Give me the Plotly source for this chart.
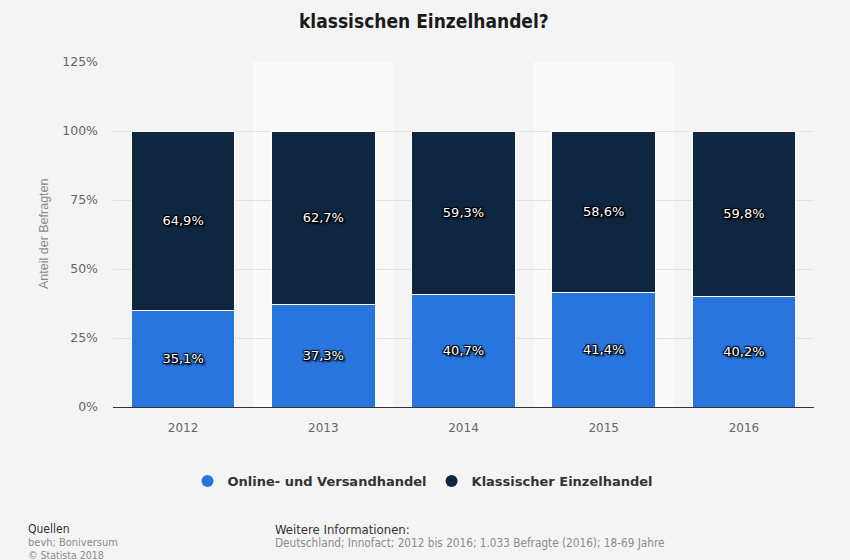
import plotly.graph_objects as go

years = ["2012", "2013", "2014", "2015", "2016"]
online = [35.1, 37.3, 40.7, 41.4, 40.2]
klassisch = [64.9, 62.7, 59.3, 58.6, 59.8]
y_ticks = [0, 25, 50, 75, 100, 125]
y_ticktext = ["0%", "25%", "50%", "75%", "100%", "125%"]

W, H = 850, 560
L, R, T, B = 113, 36, 62, 153
pw, ph = W - L - R, H - T - B

def px(x):
    return (x - L) / pw

def py(y):
    return (H - B - y) / ph

def fmt(v):
    return f"{v:.1f}%".replace(".", ",")

xs = list(range(len(years)))
blue = "#2876dd"
navy = "#0f2640"
label_font = dict(family="DejaVu Sans", size=13, color="white",
                  shadow="1px 1px 1px #000, -1px -1px 1px #000, 1px -1px 1px #000, -1px 1px 1px #000, 2px 2px 2px #000")

fig = go.Figure()
fig.add_trace(go.Bar(x=xs, y=online, marker=dict(color=blue, line=dict(color="white", width=1)),
                     text=[fmt(v) for v in online], textposition="inside", insidetextanchor="middle",
                     textfont=label_font, width=0.74, showlegend=False, hoverinfo="skip"))
fig.add_trace(go.Bar(x=xs, y=klassisch, marker=dict(color=navy, line=dict(color="white", width=1)),
                     text=[fmt(v) for v in klassisch], textposition="inside", insidetextanchor="middle",
                     textfont=label_font, width=0.74, showlegend=False, hoverinfo="skip"))
# legend entries with circle symbols
fig.add_trace(go.Scatter(x=[None], y=[None], mode="markers", name="Online- und Versandhandel",
                         marker=dict(color=blue, size=14, symbol="circle")))
fig.add_trace(go.Scatter(x=[None], y=[None], mode="markers", name="Klassischer Einzelhandel",
                         marker=dict(color=navy, size=14, symbol="circle")))

shapes = []
for i in [1, 3]:
    shapes.append(dict(type="rect", xref="x", yref="paper", x0=i - 0.5, x1=i + 0.5, y0=0, y1=1,
                       fillcolor="#fafafa", line=dict(width=0), layer="below"))

annotations = [
    dict(text="<b>klassischen Einzelhandel?</b>", x=px(424), y=py(21), xref="paper", yref="paper",
         showarrow=False, xanchor="center", yanchor="middle",
         font=dict(family="DejaVu Sans Condensed", size=19, color="#1a1a1a")),
    dict(text="Anteil der Befragten", x=px(44), y=py(234), xref="paper", yref="paper", textangle=-90,
         showarrow=False, xanchor="center", yanchor="middle",
         font=dict(family="Liberation Sans", size=12.5, color="#8c8c8c")),
    dict(text="Quellen", x=px(26), y=py(529), xref="paper", yref="paper", showarrow=False,
         xanchor="left", yanchor="middle", font=dict(family="DejaVu Sans Condensed", size=12, color="#333333")),
    dict(text="bevh; Boniversum", x=px(26), y=py(542), xref="paper", yref="paper", showarrow=False,
         xanchor="left", yanchor="middle", font=dict(family="DejaVu Sans Condensed", size=11, color="#8c8c8c")),
    dict(text="© Statista 2018", x=px(26), y=py(555), xref="paper", yref="paper", showarrow=False,
         xanchor="left", yanchor="middle", font=dict(family="DejaVu Sans Condensed", size=10.5, color="#8c8c8c")),
    dict(text="Weitere Informationen:", x=px(273), y=py(529), xref="paper", yref="paper", showarrow=False,
         xanchor="left", yanchor="middle", font=dict(family="DejaVu Sans Condensed", size=13, color="#333333")),
    dict(text="Deutschland; Innofact; 2012 bis 2016; 1.033 Befragte (2016); 18-69 Jahre", x=px(273), y=py(543),
         xref="paper", yref="paper", showarrow=False, xanchor="left", yanchor="middle",
         font=dict(family="DejaVu Sans Condensed", size=11.7, color="#8c8c8c")),
]

fig.update_layout(
    width=W, height=H, barmode="stack", bargap=0.26,
    margin=dict(l=L, r=R, t=T, b=B, autoexpand=False),
    paper_bgcolor="#f4f4f4", plot_bgcolor="#f4f4f4",
    shapes=shapes, annotations=annotations,
    legend=dict(orientation="h", x=px(423), xanchor="center", y=py(481), yanchor="middle",
                font=dict(family="DejaVu Sans", size=13, color="#333333", weight="bold"),
                itemsizing="constant", bgcolor="rgba(0,0,0,0)", traceorder="normal"),
    xaxis=dict(tickmode="array", tickvals=xs, ticktext=years, range=[-0.5, 4.5],
               showgrid=False, showline=True, linecolor="#333333", linewidth=1, ticks="",
               ticklabelstandoff=10,
               tickfont=dict(family="DejaVu Sans", size=12, color="#666666"), zeroline=False),
    yaxis=dict(range=[0, 125], tickmode="array", tickvals=y_ticks, ticktext=y_ticktext,
               showgrid=True, gridcolor="#e2e2e2", gridwidth=1, zeroline=False, showline=False,
               ticks="", ticklabelstandoff=14,
               tickfont=dict(family="DejaVu Sans", size=12.5, color="#666666")),
)

fig.write_html("out.html", config={"displayModeBar": False},
               post_script="document.body.style.margin='0px';document.body.style.overflow='hidden';")
